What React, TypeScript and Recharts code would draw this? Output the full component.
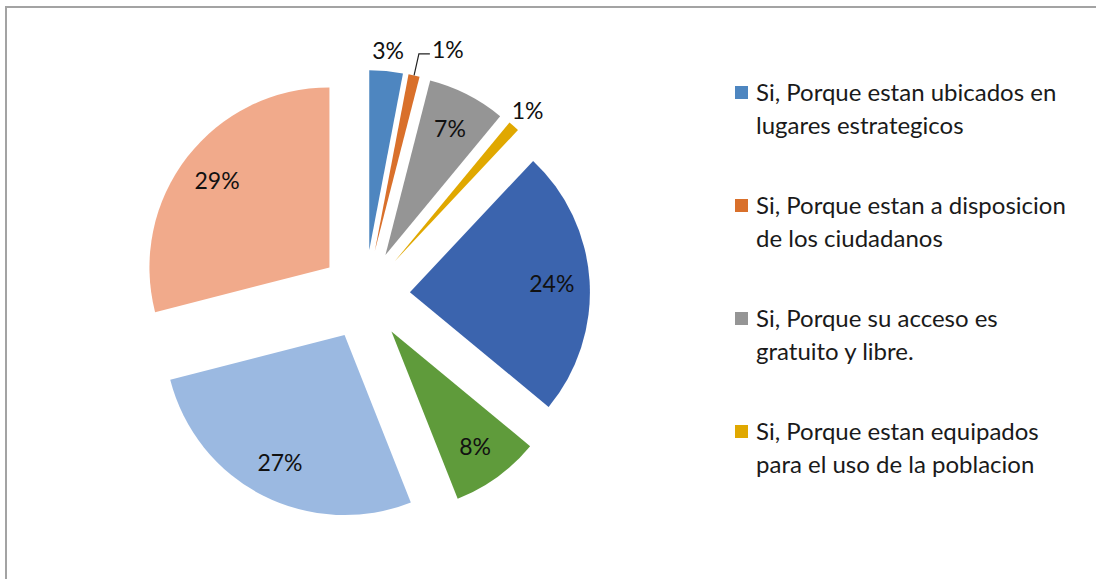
import React from "react";
import { PieChart, Pie, Cell, Sector, Legend } from "recharts";

const categories = [
  "Si, Porque estan ubicados en lugares estrategicos",
  "Si, Porque estan a disposicion de los ciudadanos",
  "Si, Porque su acceso es gratuito y libre.",
  "Si, Porque estan equipados para el uso de la poblacion",
  "Respuesta 5",
  "Respuesta 6",
  "Respuesta 7",
  "Respuesta 8",
];
const percentages = [3, 1, 7, 1, 24, 8, 27, 29];
const colors = ["#4e86c0", "#d9702b", "#959595", "#e0a800", "#3b64ae", "#5f9b3b", "#9bb9e1", "#f1aa8b"];
const legendNames = categories.slice(0, 4);

const data = categories.map((name, i) => ({ name, value: percentages[i], fill: colors[i] }));

const RAD = Math.PI / 180;
const EXPLODE = 45;
const FONT = "Lato, 'Open Sans', sans-serif";

const dir = (angle: number) => [Math.cos(-angle * RAD), Math.sin(-angle * RAD)];

const ExplodedSector = (props: any) => {
  const [dx, dy] = dir(props.midAngle);
  return <Sector {...props} cx={props.cx + EXPLODE * dx} cy={props.cy + EXPLODE * dy} stroke="none" />;
};

const renderLabel = (props: any) => {
  const { cx, cy, midAngle, outerRadius, index, value } = props;
  const [dx, dy] = dir(midAngle);
  const ox = cx + EXPLODE * dx;
  const oy = cy + EXPLODE * dy;
  const text = `${value}%`;
  const common = { fontSize: 23, fontFamily: FONT, fill: "#111" };

  if (value >= 5) {
    const r = outerRadius * 0.79;
    return (
      <text x={ox + r * dx} y={oy + r * dy} textAnchor="middle" dominantBaseline="central" {...common}>
        {text}
      </text>
    );
  }
  if (index === 1) {
    // label moved aside with a leader line
    const sx = ox + outerRadius * dx;
    const sy = oy + outerRadius * dy;
    const ex = ox + (outerRadius + 22) * dx;
    const ey = oy + (outerRadius + 22) * dy;
    return (
      <g>
        <polyline points={`${sx},${sy} ${ex},${ey} ${ex + 11},${ey}`} fill="none" stroke="#222" strokeWidth={1.2} />
        <text x={ex + 13} y={ey - 5} textAnchor="start" dominantBaseline="central" {...common}>
          {text}
        </text>
      </g>
    );
  }
  const r = outerRadius + 21;
  return (
    <text x={ox + r * dx} y={oy + r * dy} textAnchor="middle" dominantBaseline="central" {...common}>
      {text}
    </text>
  );
};

const renderLegend = (props: any) => {
  const items = legendNames
    .map((n) => (props.payload || []).find((p: any) => p.value === n))
    .filter(Boolean);
  return (
    <div style={{ width: 350, fontFamily: FONT, textAlign: "left" }}>
      {items.map((item: any, i: number) => (
        <div key={i} style={{ display: "flex", alignItems: "flex-start", height: 113 }}>
          <span
            style={{
              width: 13,
              height: 13,
              background: item.color,
              marginTop: 11,
              marginRight: 8,
              flexShrink: 0,
            }}
          />
          <span style={{ fontSize: 24, lineHeight: "33px", color: "#1a1a1a", width: 325 }}>{item.value}</span>
        </div>
      ))}
    </div>
  );
};

export default function App() {
  return (
    <div style={{ position: "absolute", left: 0, top: 0, width: 1096, height: 579, background: "#fff", overflow: "hidden" }}>
      <div
        style={{
          position: "absolute",
          left: 5,
          top: 6,
          width: 1200,
          height: 700,
          borderTop: "2px solid #a3a3a3",
          borderLeft: "2px solid #a3a3a3",
        }}
      />
      <div style={{ position: "absolute", left: 0, top: 0 }}>
        <PieChart width={1096} height={579} margin={{ top: 0, right: 0, bottom: 0, left: 0 }}>
          <Pie
            data={data}
            dataKey="value"
            nameKey="name"
            cx={365}
            cy={295}
            outerRadius={180}
            startAngle={90}
            endAngle={-270}
            stroke="none"
            shape={ExplodedSector}
            label={renderLabel}
            labelLine={false}
            isAnimationActive={false}
          >
            {data.map((d, i) => (
              <Cell key={i} fill={d.fill} />
            ))}
          </Pie>
          <Legend
            layout="vertical"
            align="center"
            verticalAlign="middle"
            content={renderLegend}
            wrapperStyle={{ left: 735, top: 75, width: 350 }}
          />
        </PieChart>
      </div>
    </div>
  );
}
